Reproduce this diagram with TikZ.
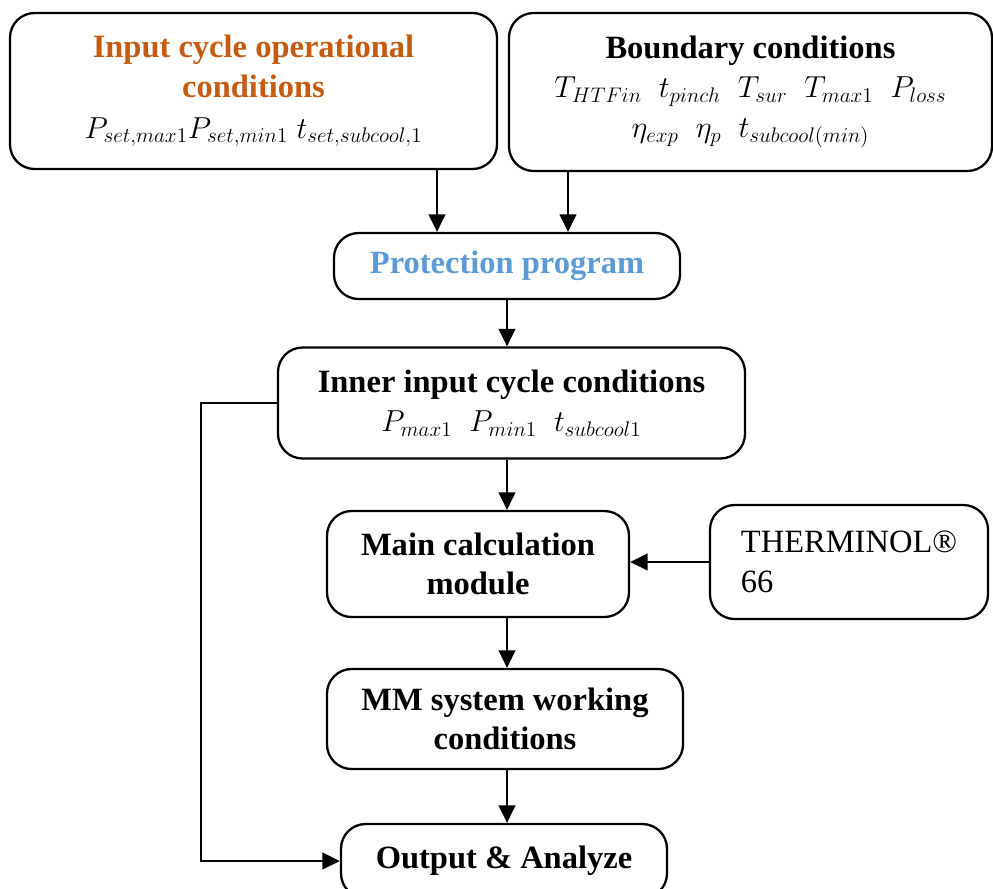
\documentclass[tikz,border=0pt]{standalone}
\usepackage{fontspec}
\setmainfont{Liberation Serif}
\usetikzlibrary{arrows.meta}
\definecolor{inputorange}{HTML}{C55A11}
\definecolor{protectblue}{HTML}{5B9BD5}
\DeclareMathSizes{18.5}{16.5}{12.5}{9}
\newlength\px
\setlength\px{0.2mm}
\tikzset{
  box/.style={draw, line width=1.3pt, rounded corners=14pt, align=center,
    inner sep=2pt, font=\fontsize{18.5}{22.5}\selectfont},
  link/.style={line width=1.3pt, -{Triangle[length=10pt,width=9.5pt]}},
}
\begin{document}
\begin{tikzpicture}[x=0.2mm, y=-0.2mm]
      \useasboundingbox (0,0) rectangle (993,888);
      \node[box, minimum width=487\px, minimum height=156\px] (input) at (253.5,91)
        {\textcolor{inputorange}{\textbf{Input cycle operational}}\\
         \textcolor{inputorange}{\textbf{conditions}}\\[1pt]
         $P_{set,max1}P_{set,min1}\;t_{set,subcool,1}$};
      \node[box, minimum width=483\px, minimum height=158\px] (bound) at (750.5,92)
        {\textbf{Boundary conditions}\\
         $T_{HTFin}\;\;t_{pinch}\;\;T_{sur}\;\;T_{max1}\;\;P_{loss}$\\
         $\eta_{exp}\;\;\eta_{p}\;\;t_{subcool(min)}$};
      \node[box, minimum width=346\px, minimum height=66\px] (protect) at (507,266)
        {\textcolor{protectblue}{\textbf{Protection program}}};
      \node[box, minimum width=467\px, minimum height=111\px] (inner) at (511.5,403)
        {\textbf{Inner input cycle conditions}\\
         $P_{max1}\;\;P_{min1}\;\;t_{subcool1}$};
      \node[box, minimum width=302\px, minimum height=106\px] (calc) at (478,564)
        {\textbf{Main calculation}\\ \textbf{module}};
      \node[box, align=left, minimum width=278\px, minimum height=114\px] (fluid) at (849,562)
        {THERMINOL®\\66};
      \node[box, minimum width=356\px, minimum height=100\px] (mm) at (505,719)
        {\textbf{MM system working}\\ \textbf{conditions}};
      \node[box, minimum width=326\px, minimum height=74\px] (output) at (504,861)
        {\textbf{Output \& Analyze}};
      \begin{scope}[link]
        \draw ([xshift=-70\px]protect.north |- input.south) -- ([xshift=-70\px]protect.north);
        \draw ([xshift=61\px]protect.north |- bound.south) -- ([xshift=61\px]protect.north);
        \draw (protect.south) -- (protect.south |- inner.north);
        \draw (protect.south |- inner.south) -- (protect.south |- calc.north);
        \draw (fluid.west) -- (fluid.west -| calc.east);
        \draw (protect.south |- calc.south) -- (protect.south |- mm.north);
        \draw (protect.south |- mm.south) -- (protect.south |- output.north);
        \draw (inner.west) -- ++(-76,0) |- (output.west);
      \end{scope}
    \end{tikzpicture}
\end{document}
